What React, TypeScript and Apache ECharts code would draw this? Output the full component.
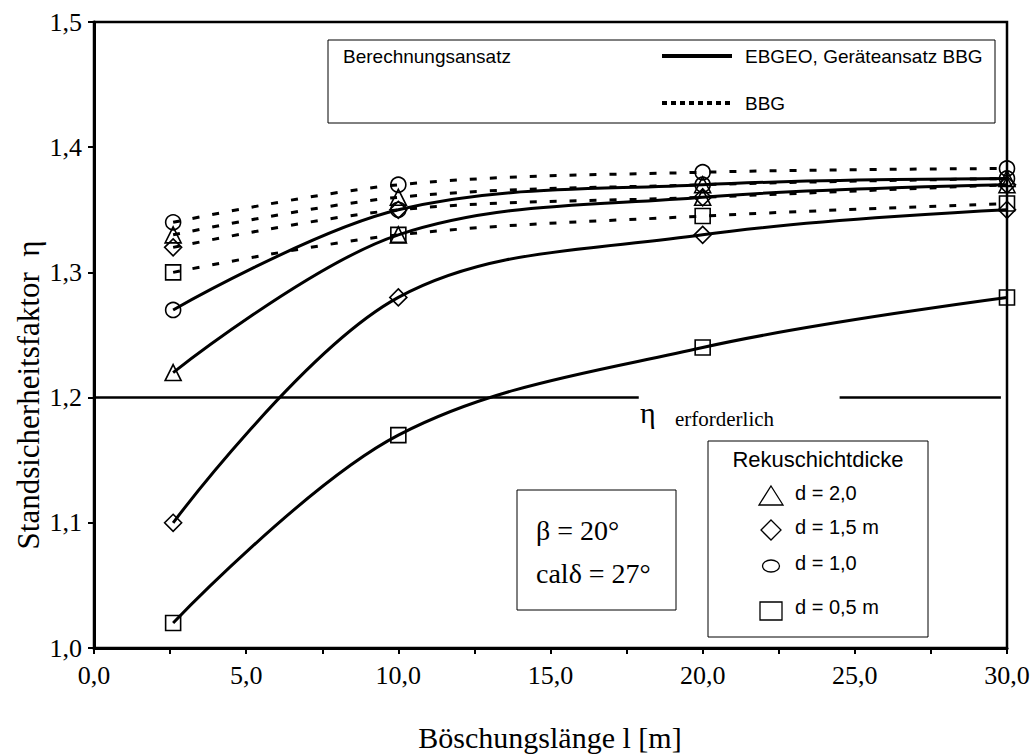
import React, { useEffect, useRef } from "react";
import * as echarts from "echarts";

// Böschungslänge l [m]
const xPositions = [2.6, 10, 20, 30];

// EBGEO, Geräteansatz BBG (solid)
const ebgeoD20 = [1.22, 1.33, 1.36, 1.37];
const ebgeoD15 = [1.1, 1.28, 1.33, 1.35];
const ebgeoD10 = [1.27, 1.35, 1.37, 1.375];
const ebgeoD05 = [1.02, 1.17, 1.24, 1.28];

// BBG (dotted)
const bbgD20 = [1.33, 1.36, 1.37, 1.375];
const bbgD15 = [1.32, 1.35, 1.36, 1.37];
const bbgD10 = [1.34, 1.37, 1.38, 1.383];
const bbgD05 = [1.3, 1.33, 1.345, 1.355];

// required safety factor line (two segments, gap for label)
const etaRequired = 1.2;
const etaSeg1 = [0, 17.9];
const etaSeg2 = [24.5, 29.8];

const SERIF = "'Liberation Serif', 'Times New Roman', serif";
const SANS = "'Liberation Sans', Arial, sans-serif";

function pts(ys: number[]) {
  return ys.map((y, i) => [xPositions[i], y]);
}

function mkSeries(name: string, ys: number[], symbol: string, size: any, dotted: boolean) {
  return {
    name,
    type: "line",
    data: pts(ys),
    smooth: 0.35,
    clip: false,
    symbol,
    symbolSize: size,
    showAllSymbol: true,
    z: 3,
    lineStyle: dotted
      ? { color: "#000", width: 3, type: [7, 13] }
      : { color: "#000", width: 3, type: "solid" },
    itemStyle: { color: "transparent", borderColor: "#000", borderWidth: 1.6 },
    emphasis: { disabled: true },
  };
}

export default function App() {
  const ref = useRef<HTMLDivElement>(null);
  useEffect(() => {
    if (!ref.current) return;
    const chart = echarts.init(ref.current, undefined, { renderer: "svg" });
    const tri = 16;
    const dia = [17, 17];
    const cir = 15;
    const sq = 15;
    const series: any[] = [
      mkSeries("EBGEO d=2,0", ebgeoD20, "triangle", tri, false),
      mkSeries("EBGEO d=1,5", ebgeoD15, "diamond", dia, false),
      mkSeries("EBGEO d=1,0", ebgeoD10, "circle", cir, false),
      mkSeries("EBGEO d=0,5", ebgeoD05, "rect", sq, false),
      mkSeries("BBG d=2,0", bbgD20, "triangle", tri, true),
      mkSeries("BBG d=1,5", bbgD15, "diamond", dia, true),
      mkSeries("BBG d=1,0", bbgD10, "circle", cir, true),
      mkSeries("BBG d=0,5", bbgD05, "rect", sq, true),
      {
        type: "line",
        data: etaSeg1.map((x) => [x, etaRequired]),
        symbol: "none",
        lineStyle: { color: "#000", width: 2.5 },
        z: 2,
      },
      {
        type: "line",
        data: etaSeg2.map((x) => [x, etaRequired]),
        symbol: "none",
        lineStyle: { color: "#000", width: 2.5 },
        z: 2,
      },
    ];

    const legendItems = [
      { sym: "tri", label: "d = 2,0", y: 496 },
      { sym: "dia", label: "d = 1,5 m", y: 530 },
      { sym: "cir", label: "d = 1,0", y: 566 },
      { sym: "sq", label: "d = 0,5 m", y: 610 },
    ];
    const lx = 771;
    const legendGraphics: any[] = [];
    legendItems.forEach((it) => {
      const st = { fill: "none", stroke: "#000", lineWidth: 1.3 };
      if (it.sym === "tri")
        legendGraphics.push({ type: "polygon", shape: { points: [[lx, it.y - 10], [lx + 12, it.y + 9], [lx - 12, it.y + 9]] }, style: st });
      if (it.sym === "dia")
        legendGraphics.push({ type: "polygon", shape: { points: [[lx, it.y - 10], [lx + 10, it.y], [lx, it.y + 10], [lx - 10, it.y]] }, style: st });
      if (it.sym === "cir")
        legendGraphics.push({ type: "ellipse", shape: { cx: lx, cy: it.y, rx: 8.5, ry: 6 }, style: st });
      if (it.sym === "sq")
        legendGraphics.push({ type: "rect", shape: { x: lx - 11, y: it.y - 8, width: 22, height: 18 }, style: st });
      legendGraphics.push({
        type: "text",
        x: 795,
        y: it.y - 3,
        style: { text: it.label, font: `20px ${SANS}`, fill: "#000", textVerticalAlign: "middle" },
      });
    });

    chart.setOption({
      animation: false,
      backgroundColor: "#fff",
      grid: {
        left: 94,
        right: 28,
        top: 22,
        bottom: 108,
        show: true,
        borderColor: "#000",
        borderWidth: 2.5,
        backgroundColor: "transparent",
      },
      xAxis: {
        type: "value",
        min: 0,
        max: 30,
        interval: 2.5,
        axisLine: { onZero: false, lineStyle: { color: "#000", width: 3 } },
        axisTick: { inside: false, length: 6, lineStyle: { color: "#000", width: 2 } },
        splitLine: { show: false },
        axisLabel: {
          formatter: (v: number) => (Math.abs(v % 5) < 1e-6 ? v.toFixed(1).replace(".", ",") : ""),
          fontFamily: SERIF,
          fontSize: 26,
          color: "#000",
          margin: 14,
        },
      },
      yAxis: {
        type: "value",
        min: 1.0,
        max: 1.5,
        interval: 0.1,
        axisLine: { show: true, lineStyle: { color: "#000", width: 3 } },
        axisTick: { show: true, inside: false, length: 6, lineStyle: { color: "#000", width: 2 } },
        splitLine: { show: false },
        axisLabel: {
          formatter: (v: number) => v.toFixed(1).replace(".", ","),
          fontFamily: SERIF,
          fontSize: 26,
          color: "#000",
          margin: 12,
        },
      },
      graphic: [
        // axis titles
        {
          type: "text",
          x: 550,
          y: 737,
          style: { text: "Böschungslänge l [m]", font: `30px ${SERIF}`, fill: "#000", textAlign: "center", textVerticalAlign: "middle" },
        },
        {
          type: "text",
          x: 28,
          y: 395,
          rotation: Math.PI / 2,
          style: { text: "Standsicherheitsfaktor  η", font: `31px ${SERIF}`, fill: "#000", textAlign: "center", textVerticalAlign: "middle" },
        },
        // eta required label
        {
          type: "text",
          x: 640,
          y: 412,
          style: { text: "η", font: `30px ${SERIF}`, fill: "#000", textVerticalAlign: "middle" },
        },
        {
          type: "text",
          x: 675,
          y: 419,
          style: { text: "erforderlich", font: `21px ${SERIF}`, fill: "#000", textVerticalAlign: "middle" },
        },
        // top legend box
        {
          type: "rect",
          z: 10,
          shape: { x: 328, y: 40, width: 667, height: 83 },
          style: { fill: "#fff", stroke: "#000", lineWidth: 1 },
        },
        {
          type: "text",
          z: 11,
          x: 343,
          y: 56,
          style: { text: "Berechnungsansatz", font: `19px ${SANS}`, fill: "#000", textVerticalAlign: "middle" },
        },
        {
          type: "line",
          z: 11,
          shape: { x1: 662, y1: 56, x2: 732, y2: 56 },
          style: { stroke: "#000", lineWidth: 4 },
        },
        {
          type: "text",
          z: 11,
          x: 745,
          y: 56,
          style: { text: "EBGEO, Geräteansatz BBG", font: `19px ${SANS}`, fill: "#000", textVerticalAlign: "middle" },
        },
        {
          type: "line",
          z: 11,
          shape: { x1: 662, y1: 103, x2: 732, y2: 103 },
          style: { stroke: "#000", lineWidth: 4, lineDash: [5, 4] },
        },
        {
          type: "text",
          z: 11,
          x: 745,
          y: 103,
          style: { text: "BBG", font: `19px ${SANS}`, fill: "#000", textVerticalAlign: "middle" },
        },
        // beta box
        {
          type: "rect",
          z: 10,
          shape: { x: 517, y: 490, width: 159, height: 120 },
          style: { fill: "#fff", stroke: "#000", lineWidth: 1 },
        },
        {
          type: "text",
          z: 11,
          x: 536,
          y: 530,
          style: { text: "β = 20°", font: `28px ${SERIF}`, fill: "#000", textVerticalAlign: "middle" },
        },
        {
          type: "text",
          z: 11,
          x: 536,
          y: 573,
          style: { text: "calδ = 27°", font: `28px ${SERIF}`, fill: "#000", textVerticalAlign: "middle" },
        },
        // bottom-right legend
        {
          type: "rect",
          z: 10,
          shape: { x: 708, y: 441, width: 220, height: 196 },
          style: { fill: "#fff", stroke: "#000", lineWidth: 1 },
        },
        {
          type: "text",
          z: 11,
          x: 818,
          y: 459,
          style: { text: "Rekuschichtdicke", font: `22px ${SANS}`, fill: "#000", textAlign: "center", textVerticalAlign: "middle" },
        },
        ...legendGraphics.map((g) => ({ ...g, z: 11 })),
      ],
      series,
    });
    return () => chart.dispose();
  }, []);
  return <div ref={ref} style={{ width: 1035, height: 756, position: "absolute", left: 0, top: 0 }} />;
}
